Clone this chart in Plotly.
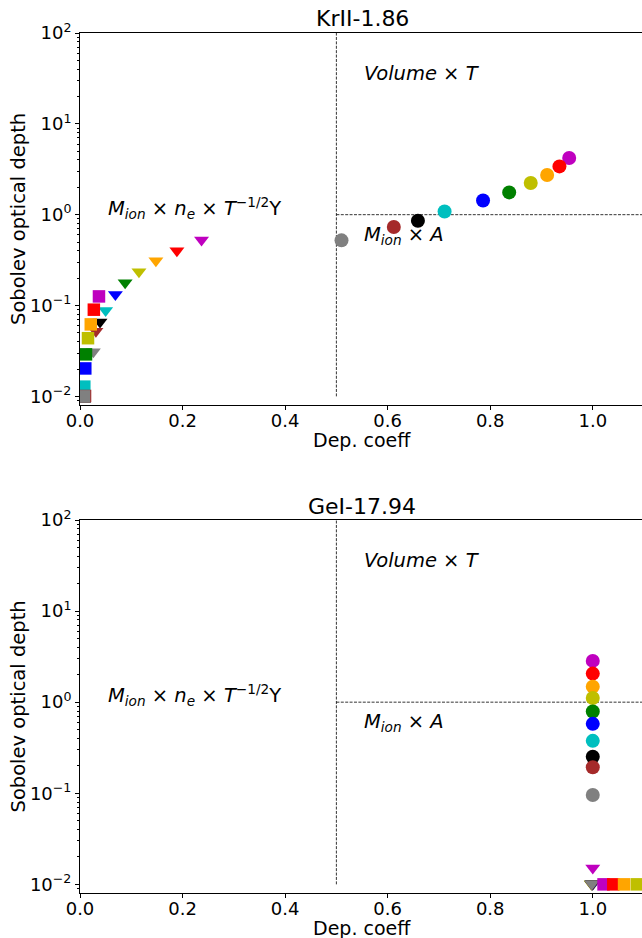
import math
import plotly.graph_objects as go

# ---------------- data ----------------
COLOR_NAMES = ["gray", "brown", "black", "c", "b", "g", "y", "orange", "r", "m"]
COLORS = ["#808080", "#a52a2a", "#000000", "#00bfbf", "#0000ff",
          "#008000", "#bfbf00", "#ffa500", "#ff0000", "#bf00bf"]

# Panel 1: KrII-1.86
kr_circ_x = [0.510, 0.612, 0.659, 0.711, 0.786, 0.837, 0.879, 0.911, 0.935, 0.954]
kr_circ_y = [0.522, 0.733, 0.859, 1.086, 1.435, 1.76, 2.23, 2.73, 3.40, 4.20]
kr_tri_x = [0.026, 0.031, 0.039, 0.050, 0.069, 0.088, 0.115, 0.148, 0.189, 0.237]
kr_tri_y = [0.031, 0.052, 0.066, 0.088, 0.132, 0.178, 0.236, 0.312, 0.40, 0.525]
kr_sq_x = [0.0078, 0.0098, 0.0090, 0.0084, 0.0103, 0.0117, 0.0156, 0.021, 0.027, 0.037]
kr_sq_y = [0.0100, 0.0101, 0.0100, 0.0128, 0.0203, 0.029, 0.0437, 0.062, 0.090, 0.126]

# Panel 2: GeI-17.94
ge_circ_x = [1.0] * 10
ge_circ_y = [0.0958, 0.193, 0.252, 0.376, 0.578, 0.789, 1.11, 1.48, 2.06, 2.84]
ge_tri_x = [0.998, 0.998, 0.999, 0.999, 1.0, 0.998, 0.997, 1.0, 1.0, 1.0]
ge_tri_y = [0.0101, 0.0101, 0.0101, 0.0101, 0.0101, 0.0101, 0.0101, 0.0101, 0.0101, 0.0151]
ge_sq_x = [None, None, None, None, None, None, 1.086, 1.061, 1.040, 1.021]
ge_sq_y = [None, None, None, None, None, None, 0.0100, 0.0100, 0.0100, 0.0100]

TITLES = ["KrII-1.86", "GeI-17.94"]
X_LABEL = "Dep. coeff"
Y_LABEL = "Sobolev optical depth"
X_TICKS = [0.0, 0.2, 0.4, 0.6, 0.8, 1.0]
Y_TICKS = [0.01, 0.1, 1.0, 10.0, 100.0]
Y_TICK_TEXT = ["10<sup>−2</sup>", "10<sup>−1</sup>", "10<sup>0</sup>",
               "10<sup>1</sup>", "10<sup>2</sup>"]
Y_MINOR = [m * 10.0 ** e for e in range(-3, 2) for m in range(2, 10)]
DEP_SPLIT = 0.5
TAU_SPLIT = 1.0
Y_LIMITS = [0.01, 100.0]

# annotation texts and anchor data positions (x, y)
TXT_VOL = "<i>Volume</i> × <i>T</i>"
TXT_A = "<i>M</i><sub><i>ion</i></sub> × <i>A</i>"
TXT_NE = "<i>M</i><sub><i>ion</i></sub> × <i>n</i><sub><i>e</i></sub> × <i>T</i><sup>−1/2</sup>Y"
POS_VOL = (0.55, 30.0)
POS_A = (0.55, 0.5)
POS_NE = (0.05, 1.0)

# ---------------- figure ----------------
W, H = 642, 938
FONT = "DejaVu Sans"
fig = go.Figure()

panels = [
    (kr_circ_x, kr_circ_y, kr_tri_x, kr_tri_y, kr_sq_x, kr_sq_y, "x", "y"),
    (ge_circ_x, ge_circ_y, ge_tri_x, ge_tri_y, ge_sq_x, ge_sq_y, "x2", "y2"),
]

order = list(range(len(COLORS)))[::-1]

dash = "3px,1.4px"
for (cx, cy, tx, ty, sx, sy, xa, ya) in panels:
    fig.add_trace(go.Scatter(x=[DEP_SPLIT, DEP_SPLIT], y=Y_LIMITS, mode="lines",
                             line=dict(color="black", width=0.8, dash=dash),
                             xaxis=xa, yaxis=ya, showlegend=False, hoverinfo="skip"))
    fig.add_trace(go.Scatter(x=[DEP_SPLIT, 1.2], y=[TAU_SPLIT, TAU_SPLIT], mode="lines",
                             line=dict(color="black", width=0.8, dash=dash),
                             xaxis=xa, yaxis=ya, showlegend=False, hoverinfo="skip"))
    for xs, ys, sym, size in [(cx, cy, "circle", 14), (tx, ty, "triangle-down", 13),
                              (sx, sy, "square", 12.5)]:
        fig.add_trace(go.Scatter(
            x=[xs[i] for i in order], y=[ys[i] for i in order], mode="markers",
            marker=dict(symbol=sym, size=size, color=[COLORS[i] for i in order],
                        line=dict(width=0)),
            xaxis=xa, yaxis=ya, showlegend=False, cliponaxis=True))

# pixel geometry of the two panels
TOP_PX = (33, 405)
BOT_PX = (520, 893)
LEFT_PX = 80
top_dom = [1 - TOP_PX[1] / H, 1 - TOP_PX[0] / H]
bot_dom = [1 - BOT_PX[1] / H, 1 - BOT_PX[0] / H]
x_dom = [LEFT_PX / W, 1.0]
xr = [0, 1.096]
yr = [-2.095, 2.0]

xcommon = dict(range=xr, domain=x_dom, tickvals=X_TICKS,
               ticktext=[f"{v:.1f}" for v in X_TICKS], automargin=False,
               showline=True, linecolor="black", linewidth=1, mirror=True,
               ticks="outside", ticklen=4, tickcolor="black", tickwidth=1,
               ticklabelstandoff=-5,
               showgrid=False, zeroline=False,
               tickfont=dict(family=FONT, size=18, color="black"))
ycommon = dict(type="log", range=yr, tickvals=Y_TICKS, ticktext=Y_TICK_TEXT,
               automargin=False,
               showline=True, linecolor="black", linewidth=1, mirror=False,
               ticks="outside", ticklen=4, tickcolor="black", tickwidth=1,
               minor=dict(ticks="outside", ticklen=2, tickcolor="black",
                          tickvals=Y_MINOR, showgrid=False),
               showgrid=False, zeroline=False,
               tickfont=dict(family=FONT, size=18, color="black"))

fig.update_layout(
    width=W, height=H, margin=dict(l=0, r=0, t=0, b=0, autoexpand=False),
    paper_bgcolor="white", plot_bgcolor="white",
    font=dict(family=FONT, color="black"),
    xaxis=dict(**xcommon, anchor="y"),
    yaxis=dict(**ycommon, domain=top_dom, anchor="x"),
    xaxis2=dict(**xcommon, anchor="y2"),
    yaxis2=dict(**ycommon, domain=bot_dom, anchor="x2"),
)

ann = []
# the full axes extend slightly past the right edge (to x = 1.1)
xc = (LEFT_PX + (LEFT_PX + (W - LEFT_PX) * 1.1 / xr[1])) / 2 / W
for title, ty in [(TITLES[0], 18), (TITLES[1], 506)]:
    ann.append(dict(text=title, x=xc, y=1 - ty / H, xref="paper", yref="paper",
                    xanchor="center", yanchor="middle", showarrow=False,
                    font=dict(family=FONT, size=22, color="black")))
for (t, b) in [TOP_PX, BOT_PX]:
    ann.append(dict(text=X_LABEL, x=xc, y=1 - (b + 35) / H, xref="paper", yref="paper",
                    xanchor="center", yanchor="middle", showarrow=False, borderpad=0,
                    font=dict(family=FONT, size=19, color="black")))
    ann.append(dict(text=Y_LABEL, x=18 / W, y=1 - ((t + b) / 2) / H, xref="paper",
                    yref="paper", xanchor="center", yanchor="middle", textangle=-90,
                    showarrow=False, font=dict(family=FONT, size=19.5, color="black")))
for xa, ya in [("x", "y"), ("x2", "y2")]:
    for txt, (px, py) in [(TXT_VOL, POS_VOL), (TXT_A, POS_A), (TXT_NE, POS_NE)]:
        ann.append(dict(text=txt, x=px, y=math.log10(py), xref=xa, yref=ya,
                        xanchor="left", yanchor="middle", yshift=7, showarrow=False,
                        font=dict(family=FONT, size=19.5, color="black")))
fig.update_layout(annotations=ann)

fig.write_html("out.html")
